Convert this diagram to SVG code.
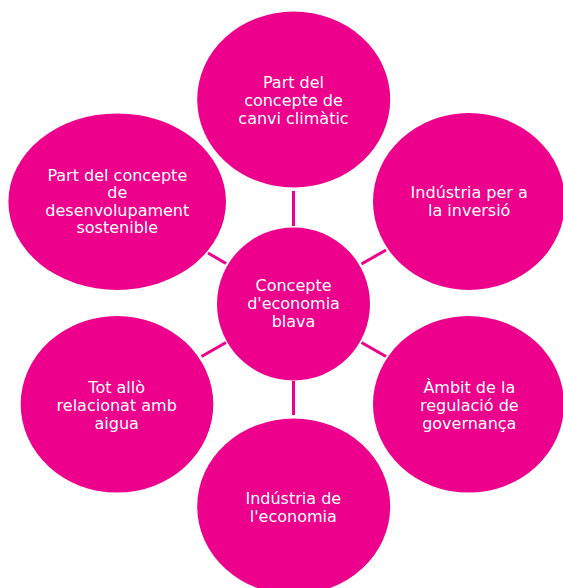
<svg xmlns="http://www.w3.org/2000/svg" width="563" height="588" viewBox="0 0 563 588">
  <style>
    .node { fill: #EC008C; }
    .label { fill: #FFFFFF; font-family: "DejaVu Sans", Verdana, sans-serif; font-size: 16px; text-anchor: middle; }
    .link { stroke: #EC008C; stroke-width: 3; stroke-linecap: butt; fill: none; }
  </style>
  <rect width="563" height="588" fill="#FFFFFF"/>

  <g id="connectors">
    <line class="link" x1="293.5" y1="191" x2="293.5" y2="226"/>
    <line class="link" x1="361.5" y1="264" x2="386" y2="250"/>
    <line class="link" x1="361.5" y1="342.5" x2="386" y2="356.5"/>
    <line class="link" x1="293.5" y1="381" x2="293.5" y2="415"/>
    <line class="link" x1="201.5" y1="356.5" x2="226" y2="342.5"/>
    <line class="link" x1="208" y1="253" x2="226" y2="263.5"/>
  </g>

  <g id="center">
    <circle class="node" cx="293.5" cy="304" r="76.5"/>
    <text class="label" x="293.5" y="291">Concepte</text>
    <text class="label" x="293.5" y="309">d'economia</text>
    <text class="label" x="293.5" y="326.5">blava</text>
  </g>

  <g id="canvi-climatic">
    <ellipse class="node" cx="293.7" cy="99.5" rx="96.5" ry="88"/>
    <text class="label" x="293.5" y="88.3">Part del</text>
    <text class="label" x="293.5" y="106">concepte de</text>
    <text class="label" x="293.5" y="123.5">canvi climàtic</text>
  </g>

  <g id="inversio">
    <ellipse class="node" cx="469" cy="201.5" rx="96" ry="88.5"/>
    <text class="label" x="469.2" y="198.3">Indústria per a</text>
    <text class="label" x="469.2" y="216">la inversió</text>
  </g>

  <g id="governanca">
    <ellipse class="node" cx="468.5" cy="404.3" rx="95.5" ry="88.3"/>
    <text class="label" x="469.3" y="393.3">Àmbit de la</text>
    <text class="label" x="469.3" y="411">regulació de</text>
    <text class="label" x="469.3" y="428.5">governança</text>
  </g>

  <g id="economia">
    <ellipse class="node" cx="293.7" cy="506.5" rx="96.5" ry="88"/>
    <text class="label" x="293.3" y="504">Indústria de</text>
    <text class="label" x="293.3" y="521.5">l'economia</text>
  </g>

  <g id="aigua">
    <ellipse class="node" cx="117" cy="404.3" rx="96.3" ry="88.3"/>
    <text class="label" x="116.7" y="393.3">Tot allò</text>
    <text class="label" x="116.7" y="411">relacionat amb</text>
    <text class="label" x="116.7" y="428.5">aigua</text>
  </g>

  <g id="desenvolupament">
    <ellipse class="node" cx="117.2" cy="201.7" rx="108.8" ry="88.3"/>
    <text class="label" x="117.3" y="181">Part del concepte</text>
    <text class="label" x="117.3" y="198.4">de</text>
    <text class="label" x="117.3" y="216">desenvolupament</text>
    <text class="label" x="117.3" y="233">sostenible</text>
  </g>
</svg>
